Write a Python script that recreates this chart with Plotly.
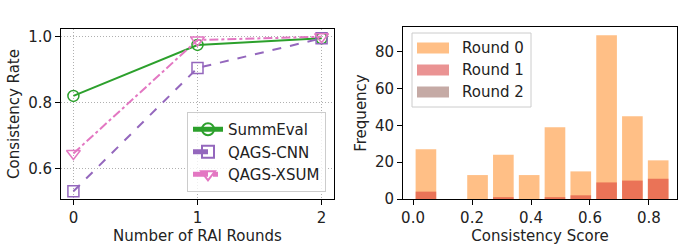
import plotly.graph_objects as go

W, H = 678, 246

# ---- data: left panel ----
rounds = [0, 1, 2]
summeval = [0.82, 0.975, 0.995]
qags_cnn = [0.53, 0.905, 0.995]
qags_xsum = [0.645, 0.99, 1.0]

# ---- data: right panel (histogram counts) ----
bin_width = 0.0875
bin_centers = [(i + 0.5) * bin_width for i in range(10)]
round0 = [27, 0, 13, 24, 13, 39, 15, 89, 45, 21]
round1 = [4, 0, 0, 1, 0, 1, 2, 9, 10, 11]
round2 = [0, 0, 0, 0, 0, 0, 0, 0, 0, 0]

FONT = "DejaVu Sans"
FS = 15

def px(x):
    return x / W

def py(y):
    return 1 - y / H

fig = go.Figure()

fig.add_trace(go.Scatter(x=rounds, y=summeval, name="SummEval", mode="lines+markers",
                         line=dict(color="#2ca02c", width=2),
                         marker=dict(symbol="circle-open", size=11, color="#2ca02c", line=dict(width=1.5)),
                         xaxis="x", yaxis="y", legendgroup="a"))
fig.add_trace(go.Scatter(x=rounds, y=qags_cnn, name="QAGS-CNN", mode="lines+markers",
                         line=dict(color="#9467bd", width=2, dash="dash"),
                         marker=dict(symbol="square-open", size=11, color="#9467bd", line=dict(width=1.5)),
                         xaxis="x", yaxis="y", legendgroup="b"))
fig.add_trace(go.Scatter(x=rounds, y=qags_xsum, name="QAGS-XSUM", mode="lines+markers",
                         line=dict(color="#e377c2", width=2, dash="dashdot"),
                         marker=dict(symbol="triangle-down-open", size=12, color="#e377c2", line=dict(width=1.5)),
                         xaxis="x", yaxis="y", legendgroup="c"))

hist_colors = ["rgba(255,127,14,0.5)", "rgba(214,39,40,0.5)", "rgba(140,86,75,0.5)"]
for name, vals, col in [("Round 0", round0, hist_colors[0]),
                        ("Round 1", round1, hist_colors[1]),
                        ("Round 2", round2, hist_colors[2])]:
    fig.add_trace(go.Bar(x=bin_centers, y=vals, width=bin_width * 0.8, name=name,
                         marker=dict(color=col, line=dict(width=0)),
                         xaxis="x2", yaxis="y2", showlegend=False))

axis_common = dict(showline=True, linecolor="black", linewidth=1, mirror=True,
                   ticks="outside", ticklen=5, tickwidth=1, tickcolor="black",
                   tickfont=dict(family=FONT, size=FS, color="#222222"), zeroline=False,
                   automargin=False)

fig.update_layout(
    width=W, height=H,
    margin=dict(l=0, r=0, t=0, b=0),
    paper_bgcolor="white", plot_bgcolor="white",
    font=dict(family=FONT, size=FS, color="#222222"),
    barmode="overlay",
    xaxis=dict(domain=[px(61), px(334)], range=[-0.1, 2.1], tickvals=[0, 1, 2],
               showgrid=True, gridcolor="#b0b0b0", griddash="1px,2px", gridwidth=1,
               title=dict(text="Number of RAI Rounds", font=dict(family=FONT, size=FS), standoff=2),
               anchor="y", **axis_common),
    yaxis=dict(domain=[py(199), py(29)], range=[0.5065, 1.0235], tickvals=[0.6, 0.8, 1.0],
               ticktext=["0.6", "0.8", "1.0"],
               showgrid=True, gridcolor="#b0b0b0", griddash="1px,2px", gridwidth=1,
               title=dict(text="Consistency Rate", font=dict(family=FONT, size=FS), standoff=4),
               anchor="x", **axis_common),
    xaxis2=dict(domain=[px(403), px(677)], range=[-0.034, 0.895],
                tickvals=[0.0, 0.2, 0.4, 0.6, 0.8], ticktext=["0.0", "0.2", "0.4", "0.6", "0.8"],
                showgrid=False,
                title=dict(text="Consistency Score", font=dict(family=FONT, size=FS), standoff=2),
                anchor="y2", **axis_common),
    yaxis2=dict(domain=[py(199), py(27)], range=[0, 93.45], tickvals=[0, 20, 40, 60, 80],
                showgrid=False,
                title=dict(text="Frequency", font=dict(family=FONT, size=FS), standoff=4),
                anchor="x2", **axis_common),
    legend=dict(x=px(326), y=py(192), xanchor="right", yanchor="bottom",
                bgcolor="rgba(255,255,255,0.8)", bordercolor="#cccccc", borderwidth=1,
                font=dict(family=FONT, size=FS), tracegroupgap=0, itemsizing="constant"),
)

# manual legend for histogram panel
shapes = [dict(type="rect", xref="paper", yref="paper",
               x0=px(412), x1=px(531), y0=py(107), y1=py(33),
               fillcolor="rgba(255,255,255,0.8)", line=dict(color="#cccccc", width=1), layer="above")]
annotations = []
for i, (name, col) in enumerate(zip(["Round 0", "Round 1", "Round 2"], hist_colors)):
    yc = 48 + 22 * i
    shapes.append(dict(type="rect", xref="paper", yref="paper",
                       x0=px(417), x1=px(449), y0=py(yc + 5.5), y1=py(yc - 5.5),
                       fillcolor=col, line=dict(width=0), layer="above"))
    annotations.append(dict(text=name, xref="paper", yref="paper", x=px(460), y=py(yc),
                            xanchor="left", yanchor="middle", showarrow=False,
                            font=dict(family=FONT, size=FS, color="#222222")))
fig.update_layout(shapes=shapes, annotations=annotations)

fig.write_html("out.html", config={"displayModeBar": False},
               post_script="document.body.style.margin='0';document.body.style.overflow='hidden';")
